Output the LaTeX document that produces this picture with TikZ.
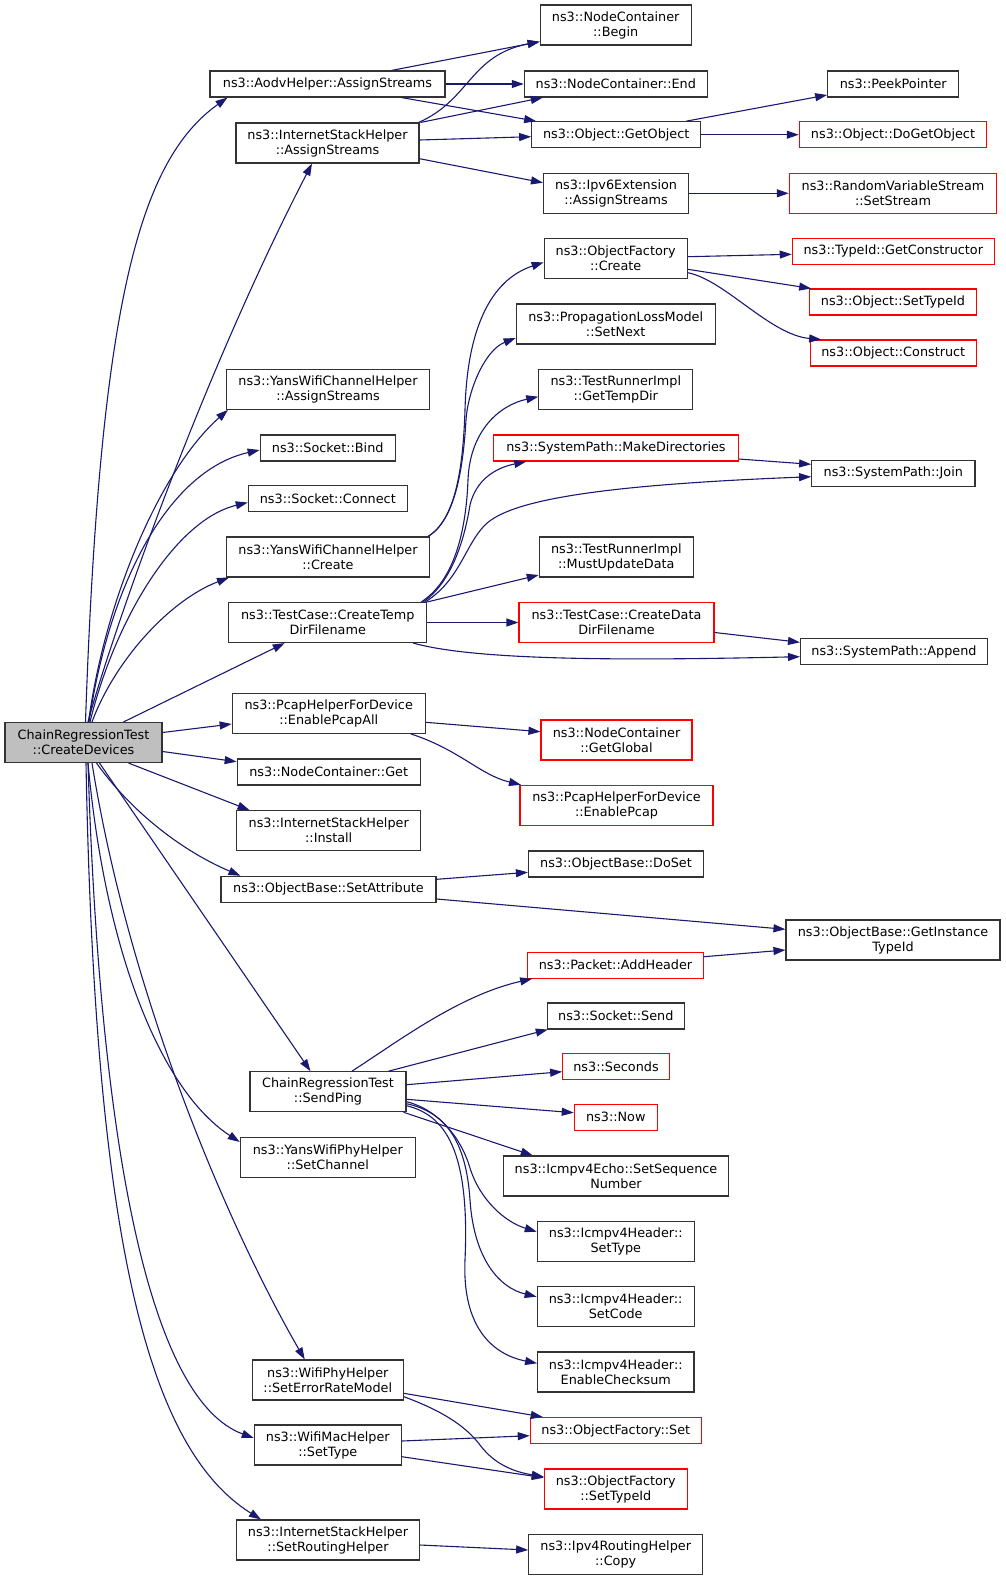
\documentclass[tikz,border=0pt]{standalone}
\usepackage{fontspec}
\setmainfont{DejaVu Sans}
\usetikzlibrary{arrows.meta,calc}
\definecolor{edgecol}{HTML}{191970}
\definecolor{rootfill}{HTML}{BFBFBF}
\definecolor{boxline}{HTML}{333333}
\begin{document}
\begin{tikzpicture}[x=1pt,y=-1pt,
  box/.style={draw=boxline, line width=1.1pt, fill=white, inner sep=0pt, align=center,
    font=\fontsize{12.8}{15}\selectfont},
  redbox/.style={box, draw=red},
  root/.style={box, fill=rootfill},
  bw/.style={minimum width=#1pt},
  sgl/.style={minimum height=26pt},
  dbl/.style={minimum height=40pt},
  edge/.style={draw=edgecol, line width=1.1pt, -{Triangle[length=12pt,width=8pt]}}]
\useasboundingbox (0,0) rectangle (1005,1580);
% column 1
\node[root,bw=157,dbl] (cd) at (83.5,742.5) {ChainRegressionTest\\::CreateDevices};
% column 2
\node[box,bw=235,sgl] (aodv) at (327.5,84) {ns3::AodvHelper::AssignStreams};
\node[box,bw=183,dbl] (ishas) at (327.5,143) {ns3::InternetStackHelper\\::AssignStreams};
\node[box,bw=203,dbl] (yansas) at (328,389.3) {ns3::YansWifiChannelHelper\\::AssignStreams};
\node[box,bw=135,sgl] (bind) at (327.7,448) {ns3::Socket::Bind};
\node[box,bw=159,sgl] (connect) at (327.8,498.5) {ns3::Socket::Connect};
\node[box,bw=203,dbl] (yanscr) at (328,557) {ns3::YansWifiChannelHelper\\::Create};
\node[box,bw=198,dbl] (tempdir) at (327.7,622.5) {ns3::TestCase::CreateTemp\\DirFilename};
\node[box,bw=193,dbl] (pcapall) at (328.7,713.3) {ns3::PcapHelperForDevice\\::EnablePcapAll};
\node[box,bw=183,sgl] (ncget) at (328.7,772) {ns3::NodeContainer::Get};
\node[box,bw=184,dbl] (ishinst) at (328.7,830.7) {ns3::InternetStackHelper\\::Install};
\node[box,bw=215,sgl] (setattr) at (328.5,889.3) {ns3::ObjectBase::SetAttribute};
\node[box,bw=156,dbl] (sendping) at (328,1091.7) {ChainRegressionTest\\::SendPing};
\node[box,bw=175,dbl] (setchan) at (327.8,1157.3) {ns3::YansWifiPhyHelper\\::SetChannel};
\node[box,bw=151,dbl] (errmodel) at (327.8,1380) {ns3::WifiPhyHelper\\::SetErrorRateModel};
\node[box,bw=147,dbl] (macset) at (327.8,1445) {ns3::WifiMacHelper\\::SetType};
\node[box,bw=183,dbl] (routing) at (328,1540) {ns3::InternetStackHelper\\::SetRoutingHelper};
% column 3
\node[box,bw=151,dbl] (begin) at (615.7,25) {ns3::NodeContainer\\::Begin};
\node[box,bw=183,sgl] (ncend) at (615.8,84) {ns3::NodeContainer::End};
\node[box,bw=169,sgl] (getobj) at (616.2,134.7) {ns3::Object::GetObject};
\node[box,bw=145,dbl] (ipv6) at (616,193.3) {ns3::Ipv6Extension\\::AssignStreams};
\node[box,bw=143,dbl] (ofcreate) at (615.7,258.3) {ns3::ObjectFactory\\::Create};
\node[box,bw=199,dbl] (setnext) at (615.7,324) {ns3::PropagationLossModel\\::SetNext};
\node[box,bw=154,dbl] (gettemp) at (615.8,389.3) {ns3::TestRunnerImpl\\::GetTempDir};
\node[redbox,bw=244.5,sgl] (makedir) at (616,448) {ns3::SystemPath::MakeDirectories};
\node[box,bw=154,dbl] (mustupd) at (616.3,557) {ns3::TestRunnerImpl\\::MustUpdateData};
\node[redbox,bw=195,dbl] (datadir) at (616.5,622.5) {ns3::TestCase::CreateData\\DirFilename};
\node[redbox,bw=151,dbl] (getglobal) at (616.5,740) {ns3::NodeContainer\\::GetGlobal};
\node[redbox,bw=193,dbl] (enpcap) at (616.5,805.3) {ns3::PcapHelperForDevice\\::EnablePcap};
\node[box,bw=175,sgl] (doset) at (616,864) {ns3::ObjectBase::DoSet};
\node[redbox,bw=175.6,sgl] (addheader) at (615.5,965.2) {ns3::Packet::AddHeader};
\node[box,bw=137,sgl] (send) at (615.8,1016) {ns3::Socket::Send};
\node[redbox,bw=106.6,sgl] (seconds) at (616,1066.7) {ns3::Seconds};
\node[redbox,bw=83,sgl] (now) at (615.8,1117.2) {ns3::Now};
\node[box,bw=224.6,dbl] (seqnum) at (616,1176) {ns3::Icmpv4Echo::SetSequence\\Number};
\node[box,bw=157,dbl] (settype) at (615.8,1241.7) {ns3::Icmpv4Header::\\SetType};
\node[box,bw=157,dbl] (setcode) at (615.7,1306.7) {ns3::Icmpv4Header::\\SetCode};
\node[box,bw=156.3,dbl] (checksum) at (615.8,1372) {ns3::Icmpv4Header::\\EnableChecksum};
\node[redbox,bw=171,sgl] (ofset) at (615.8,1430.5) {ns3::ObjectFactory::Set};
\node[redbox,bw=143,dbl] (ofstid) at (615.8,1489) {ns3::ObjectFactory\\::SetTypeId};
\node[box,bw=174,dbl] (copy) at (615.7,1554.7) {ns3::Ipv4RoutingHelper\\::Copy};
% column 4
\node[box,bw=131,sgl] (peek) at (893.2,84) {ns3::PeekPointer};
\node[redbox,bw=187.4,sgl] (dogetobj) at (893,134.7) {ns3::Object::DoGetObject};
\node[redbox,bw=207.4,dbl] (setstream) at (893,193.3) {ns3::RandomVariableStream\\::SetStream};
\node[redbox,bw=202,sgl] (getctor) at (893.3,251.3) {ns3::TypeId::GetConstructor};
\node[redbox,bw=167.4,sgl] (objstid) at (893,302) {ns3::Object::SetTypeId};
\node[redbox,bw=166,sgl] (construct) at (893.3,353) {ns3::Object::Construct};
\node[box,bw=163.3,sgl] (join) at (893.3,473.3) {ns3::SystemPath::Join};
\node[box,bw=187,sgl] (append) at (894,651.7) {ns3::SystemPath::Append};
\node[box,bw=214,dbl] (insttype) at (893,940) {ns3::ObjectBase::GetInstance\\TypeId};
% edges from CreateDevices
\draw[edge] ($(cd.north)+(2,0)$) .. controls (100,300) and (140,160) .. ($(aodv.south west)+(18,0)$);
\draw[edge] ($(cd.north)+(4.5,0)$) .. controls (110,640) and (200,380) .. ($(ishas.south)+(-15.5,0)$);
\draw[edge] ($(cd.north)+(5,0)$) .. controls (105,600) and (160,470) .. ($(yansas.south west)+(2,0)$);
\draw[edge] ($(cd.north)+(5.5,0)$) .. controls (110,580) and (170,470) .. ($(bind.west)+(0,2)$);
\draw[edge] ($(cd.north)+(6.5,0)$) .. controls (115,620) and (175,520) .. ($(connect.west)+(0,4)$);
\draw[edge] ($(cd.north)+(8.5,0)$) .. controls (115,660) and (170,600) .. ($(yanscr.south west)+(3,0)$);
\draw[edge] ($(cd.north)+(40,0)$) -- ($(tempdir.south)+(-43,0)$);
\draw[edge] ($(cd.east)+(0,-10)$) -- ($(pcapall.west)+(0,10.7)$);
\draw[edge] ($(cd.east)+(0,9)$) -- ($(ncget.west)+(0,-10.3)$);
\draw[edge] ($(cd.south)+(45,0)$) -- ($(ishinst.north west)+(13.4,0)$);
\draw[edge] ($(cd.south)+(13,0)$) .. controls (130,810) and (180,850) .. ($(setattr.north west)+(20,0)$);
\draw[edge] ($(cd.south)+(16,0)$) -- ($(sendping.north west)+(61,0)$);
\draw[edge] ($(cd.south)+(4.5,0)$) .. controls (105,950) and (160,1090) .. ($(setchan.west)+(0,-15.3)$);
\draw[edge] ($(cd.south)+(8.5,0)$) .. controls (130,1000) and (230,1230) .. ($(errmodel.north west)+(53,0)$);
\draw[edge] ($(cd.south)+(4.5,0)$) .. controls (100,1150) and (150,1400) .. ($(macset.west)+(0,-7)$);
\draw[edge] ($(cd.south)+(2.5,0)$) .. controls (95,1250) and (150,1450) .. ($(routing.north west)+(25,0)$);
% top group
\draw[edge] ($(aodv.north)+(64,0)$) -- ($(begin.west)+(0,16.7)$);
\draw[edge] (aodv.east) -- (ncend.west);
\draw[edge] ($(aodv.south)+(74,0)$) -- ($(getobj.north west)+(5,0)$);
\draw[edge] ($(ishas.north east)+(-1,0)$) .. controls (470,100) and (470,55) .. ($(begin.west)+(0,16.7)$);
\draw[edge] ($(ishas.north east)+(1,0)$) -- ($(ncend.south west)+(19,0)$);
\draw[edge] ($(ishas.east)+(0,-3)$) -- ($(getobj.west)+(0,2)$);
\draw[edge] ($(ishas.east)+(0,15.7)$) -- ($(ipv6.west)+(0,-10.6)$);
\draw[edge] ($(getobj.north east)+(-15,0)$) -- ($(peek.west)+(0,11)$);
\draw[edge] (getobj.east) -- (dogetobj.west);
\draw[edge] (ipv6.east) -- (setstream.west);
\draw[edge] ($(ofcreate.east)+(0,-1.6)$) -- ($(getctor.west)+(0,3)$);
\draw[edge] ($(ofcreate.east)+(0,11)$) -- ($(objstid.north west)+(2.4,0)$);
\draw[edge] ($(ofcreate.east)+(0,14.4)$) .. controls (725,280) and (770,335) .. ($(construct.north west)+(11.4,0)$);
% YansWifiChannelHelper::Create
\draw[edge] ($(yanscr.north east)+(-2,0)$) .. controls (455,520) and (463,470) .. (465,410) .. controls (467,330) and (490,280) .. ($(ofcreate.west)+(0,4)$);
\draw[edge] ($(yanscr.north east)+(-2,0)$) .. controls (455,520) and (463,470) .. (466,420) .. controls (468,390) and (485,350) .. ($(setnext.west)+(0,14)$);
% CreateTempDirFilename
\draw[edge] ($(tempdir.north east)+(-6,0)$) .. controls (455,580) and (466,530) .. (468,480) .. controls (470,430) and (500,405) .. ($(gettemp.west)+(0,7.4)$);
\draw[edge] ($(tempdir.north east)+(-4,0)$) .. controls (455,580) and (466,530) .. (470,505) .. controls (476,480) and (495,468) .. ($(makedir.south west)+(33,0)$);
\draw[edge] ($(tempdir.north east)+(-2,0)$) .. controls (460,580) and (465,545) .. (485,525) .. controls (510,500) and (600,485) .. ($(join.west)+(0,3.4)$);
\draw[edge] (tempdir.north east) -- ($(mustupd.west)+(0,18)$);
\draw[edge] (tempdir.east) -- (datadir.west);
\draw[edge] ($(tempdir.south east)+(-14,0)$) .. controls (480,662) and (650,660) .. ($(append.west)+(0,5)$);
\draw[edge] ($(datadir.east)+(0,10)$) -- ($(append.west)+(0,-9.4)$);
\draw[edge] ($(makedir.east)+(0,11)$) -- ($(join.west)+(0,-9)$);
% Pcap / SetAttribute
\draw[edge] ($(pcapall.east)+(0,9)$) -- ($(getglobal.west)+(0,-8.3)$);
\draw[edge] ($(pcapall.south east)+(-15,0)$) .. controls (460,750) and (480,775) .. ($(enpcap.north west)+(1.5,0)$);
\draw[edge] ($(setattr.east)+(0,-10)$) -- ($(doset.west)+(0,8.3)$);
\draw[edge] ($(setattr.east)+(0,9.7)$) -- ($(insttype.west)+(0,-10.7)$);
\draw[edge] ($(addheader.east)+(0,-8.5)$) -- ($(insttype.west)+(0,10)$);
% SendPing
\draw[edge] ($(sendping.north)+(24,0)$) .. controls (400,1040) and (460,995) .. ($(addheader.south west)+(5,0)$);
\draw[edge] ($(sendping.north east)+(-18,0)$) -- ($(send.south west)+(1,0)$);
\draw[edge] ($(sendping.east)+(0,-7)$) -- ($(seconds.west)+(0,5)$);
\draw[edge] ($(sendping.east)+(0,7.6)$) -- ($(now.west)+(0,-4.5)$);
\draw[edge] ($(sendping.south east)+(-3,0)$) -- ($(seqnum.north west)+(29.6,0)$);
\draw[edge] ($(sendping.east)+(0,10)$) .. controls (440,1110) and (462,1140) .. (470,1168) .. controls (480,1200) and (505,1222) .. ($(settype.west)+(0,-10)$);
\draw[edge] ($(sendping.east)+(0,12)$) .. controls (445,1112) and (466,1140) .. (470,1200) .. controls (474,1260) and (500,1288) .. ($(setcode.west)+(0,-10)$);
\draw[edge] ($(sendping.east)+(0,14)$) .. controls (445,1115) and (470,1150) .. (465,1260) .. controls (462,1330) and (495,1355) .. ($(checksum.west)+(0,-8.7)$);
% bottom group
\draw[edge] ($(errmodel.east)+(0,13.3)$) -- ($(ofset.north west)+(13,0)$);
\draw[edge] ($(errmodel.east)+(0,16.7)$) .. controls (440,1410) and (465,1425) .. (480,1445) .. controls (495,1465) and (515,1472) .. ($(ofstid.west)+(0,-12.3)$);
\draw[edge] ($(macset.east)+(0,-4)$) -- ($(ofset.west)+(0,5.2)$);
\draw[edge] ($(macset.east)+(0,11.7)$) -- ($(ofstid.west)+(0,-11.3)$);
\draw[edge] ($(routing.east)+(0,5)$) -- ($(copy.west)+(0,-4.7)$);
\end{tikzpicture}
\end{document}
